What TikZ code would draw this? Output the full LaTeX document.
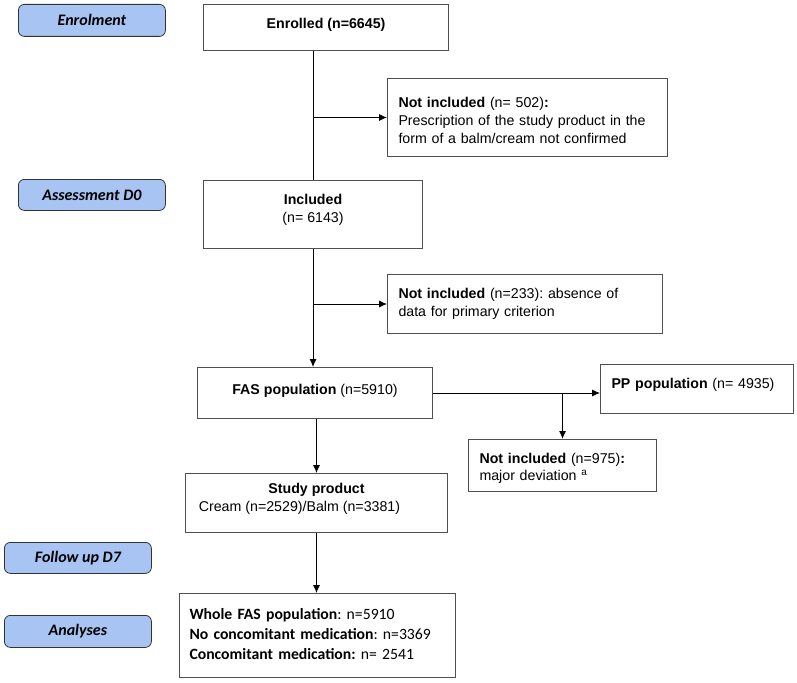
\documentclass[tikz,border=0pt]{standalone}
\usepackage{fontspec}
\setmainfont{Liberation Sans}
\newfontfamily\calfont{Carlito}
\usetikzlibrary{arrows.meta}
\definecolor{stageblue}{RGB}{168,196,242}
\definecolor{boxgray}{RGB}{80,80,80}
\newcommand{\lift}[1]{\rule[-#1pt]{0pt}{0pt}}
\newcommand{\drop}[1]{\rule{0pt}{#1pt}}
\tikzset{
  stage/.style={draw=black!80, fill=stageblue, rounded corners=6pt, line width=0.8pt,
    minimum width=147pt, minimum height=32pt, anchor=north west,
    font=\calfont\fontsize{16}{18}\selectfont\bfseries\itshape},
  box/.style={draw=boxgray, line width=1pt, anchor=north west, inner sep=0pt,
    font=\fontsize{14.2}{17.8}\selectfont},
  lbox/.style={box, align=left, inner xsep=11pt},
  arr/.style={-{Latex[length=8pt,width=7pt]}, line width=0.9pt},
  link/.style={line width=0.9pt}
}
\frenchspacing
\begin{document}
\begin{tikzpicture}[x=1pt,y=-1pt]
\useasboundingbox (0,0) rectangle (797,682);
% stages on the left
\node[stage] (senrol) at (18,4) {Enrolment};
\node[stage, minimum height=31pt] (sdzero) at (18,179) {Assessment D0};
\node[stage, minimum height=31pt] (sfollow) at (4,542) {Follow up D7};
\node[stage] (sanal) at (4,615) {Analyses};
% flow boxes
\node[box, minimum width=245pt, minimum height=46pt, align=center] (enrol) at (203,4) {\textbf{Enrolled (n=6645)}\lift{8}};
\node[lbox, text width=258pt, minimum height=78pt] (excl1) at (387,78) {\drop{16}\textbf{Not included} (n= 502)\textbf{:}\\Prescription of the study product in the\\form of a balm/cream not confirmed};
\node[box, minimum width=219pt, minimum height=68pt, align=center] (incl) at (203,180) {\textbf{Included}\\(n= 6143)\lift{12}};
\node[lbox, text width=253pt, minimum height=59pt] (excl2) at (387,274) {\textbf{Not included} (n=233): absence of\\data for primary criterion};
\node[box, minimum width=235pt, minimum height=51pt, align=center] (fas) at (197,367) {\textbf{FAS population} (n=5910)\lift{7}};
\node[lbox, text width=171pt, minimum height=49pt] (pp) at (600,364) {\textbf{PP population} (n= 4935)\lift{11}};
\node[lbox, text width=166pt, minimum height=52pt] (excl3) at (468,439) {\drop{16}\textbf{Not included} (n=975)\textbf{:}\\major deviation \textsuperscript{a}};
\node[box, minimum width=262pt, minimum height=59pt, align=center] (prod) at (185,473) {\textbf{Study product}\\Cream (n=2529)/Balm (n=3381)\hspace*{34pt}\lift{12}};
\node[lbox, inner xsep=10pt, text width=256pt, minimum height=84pt, font=\calfont\fontsize{15.7}{20}\selectfont] (res) at (179,593) {\textbf{Whole FAS population}: n=5910\\\textbf{No concomitant medication}: n=3369\\\textbf{Concomitant medication:} n= 2541\lift{4}};
% connectors
\draw[link] (enrol.south -| incl.north) -- (incl.north);
\draw[arr] (excl1.west -| incl.north) -- (excl1.west);
\draw[arr] (incl.south) -- (incl.south |- fas.north);
\draw[arr] (excl2.west -| incl.south) -- (excl2.west);
\draw[arr] (fas.east) -- (fas.east -| pp.west);
\draw[arr] (fas.east -| excl3.north) -- (excl3.north);
\draw[arr] (fas.south -| prod.north) -- (prod.north);
\draw[arr] (prod.south) -- (prod.south |- res.north);
\end{tikzpicture}
\end{document}
